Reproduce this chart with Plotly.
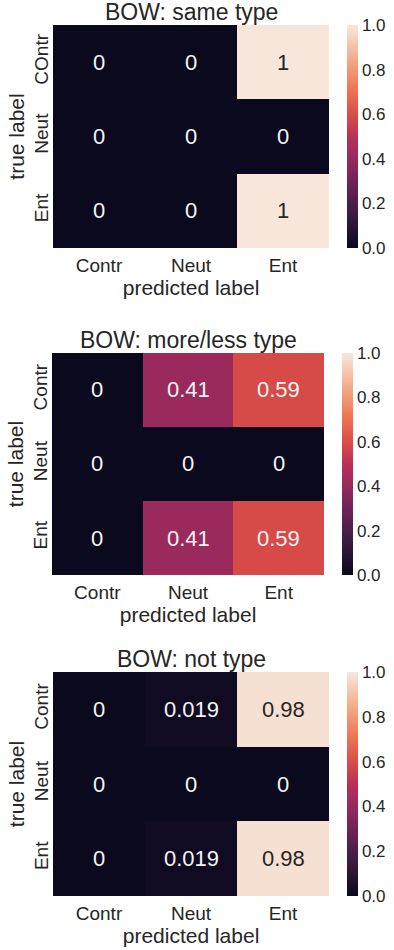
import plotly.graph_objects as go

# 데이터
pred_labels = ["Contr", "Neut", "Ent"]
true_labels_1 = ["COntr", "Neut", "Ent"]
true_labels = ["Contr", "Neut", "Ent"]

titles = ["BOW: same type", "BOW: more/less type", "BOW: not type"]

z_same = [[0, 0, 1], [0, 0, 0], [0, 0, 1]]
z_moreless = [[0, 0.41, 0.59], [0, 0, 0], [0, 0.41, 0.59]]
z_not = [[0, 0.019, 0.98], [0, 0, 0], [0, 0.019, 0.98]]

text_same = [["0", "0", "1"], ["0", "0", "0"], ["0", "0", "1"]]
text_moreless = [["0", "0.41", "0.59"], ["0", "0", "0"], ["0", "0.41", "0.59"]]
text_not = [["0", "0.019", "0.98"], ["0", "0", "0"], ["0", "0.019", "0.98"]]

cbar_ticks = [0.0, 0.2, 0.4, 0.6, 0.8, 1.0]

# 색상 (rocket 근사)
ROCKET = [
    [0.0, "#0a091d"],
    [0.143, "#371b40"],
    [0.286, "#6c2256"],
    [0.41, "#9a2a5c"],
    [0.5, "#b8305a"],
    [0.59, "#d64b48"],
    [0.714, "#ee7656"],
    [0.857, "#f3b08e"],
    [0.98, "#f6e0d2"],
    [1.0, "#f8e6da"],
]
TEXT_COLOR = "#262626"
FONT = "Liberation Sans, Arial, sans-serif"

W, H = 394, 950

# 패널 위치 (픽셀)
panels = [
    dict(z=z_same, text=text_same, ylab=true_labels_1, x0=53, x1=329, y0=25, y1=248, cx=347),
    dict(z=z_moreless, text=text_moreless, ylab=true_labels, x0=52, x1=324, y0=353, y1=575, cx=342),
    dict(z=z_not, text=text_not, ylab=true_labels, x0=53, x1=329, y0=672, y1=896, cx=347),
]

fig = go.Figure()
layout = {}
annotations = []

for i, p in enumerate(panels):
    n = "" if i == 0 else str(i + 1)
    xd = [p["x0"] / W, p["x1"] / W]
    yd = [1 - p["y1"] / H, 1 - p["y0"] / H]
    ylab = p["ylab"]

    fig.add_trace(
        go.Heatmap(
            z=p["z"], x=pred_labels, y=ylab,
            zmin=0, zmax=1,
            colorscale=ROCKET,
            xaxis="x" + n, yaxis="y" + n,
            hoverinfo="skip",
            colorbar=dict(
                x=p["cx"] / W, xanchor="left", xpad=0,
                y=sum(yd) / 2, yanchor="middle", ypad=0,
                len=yd[1] - yd[0], lenmode="fraction",
                thickness=11, thicknessmode="pixels",
                outlinewidth=0, ticks="",
                tickvals=cbar_ticks, tickformat=".1f",
                tickfont=dict(size=17, color=TEXT_COLOR, family=FONT),
            ),
        )
    )

    layout["xaxis" + n] = dict(
        domain=xd, anchor="y" + n, automargin=False,
        showgrid=False, zeroline=False, showline=False, ticks="",
        ticklabelstandoff=4,
        tickfont=dict(size=19, color=TEXT_COLOR, family=FONT),
        title=dict(text="predicted label", standoff=0,
                   font=dict(size=21, color=TEXT_COLOR, family=FONT)),
    )
    layout["yaxis" + n] = dict(
        domain=yd, anchor="x" + n, automargin=False,
        autorange="reversed",
        showgrid=False, zeroline=False, showline=False, ticks="",
        tickangle=-90, ticklabelstandoff=0,
        tickfont=dict(size=19, color=TEXT_COLOR, family=FONT),
        title=dict(text="true label", standoff=0,
                   font=dict(size=21, color=TEXT_COLOR, family=FONT)),
    )

    # 셀 값 표시
    for r, row in enumerate(p["z"]):
        for c, v in enumerate(row):
            annotations.append(dict(
                x=pred_labels[c], y=ylab[r],
                xref="x" + n, yref="y" + n,
                text=p["text"][r][c], showarrow=False,
                font=dict(size=22, family=FONT,
                          color=TEXT_COLOR if v > 0.7 else "#f4f4f4"),
            ))

    # 제목
    annotations.append(dict(
        x=sum(xd) / 2, y=yd[1], xref="paper", yref="paper",
        xanchor="center", yanchor="middle", yshift=13,
        text=titles[i], showarrow=False,
        font=dict(size=23, color=TEXT_COLOR, family=FONT),
    ))

fig.update_layout(
    **layout,
    annotations=annotations,
    width=W, height=H,
    margin=dict(l=0, r=0, t=0, b=0, autoexpand=False),
    paper_bgcolor="white", plot_bgcolor="white",
    font=dict(family=FONT, color=TEXT_COLOR),
)

# 페이지 기본 여백 제거
fig.write_html(
    "out.html",
    config={"displayModeBar": False},
    post_script="document.body.style.margin='0';",
)
